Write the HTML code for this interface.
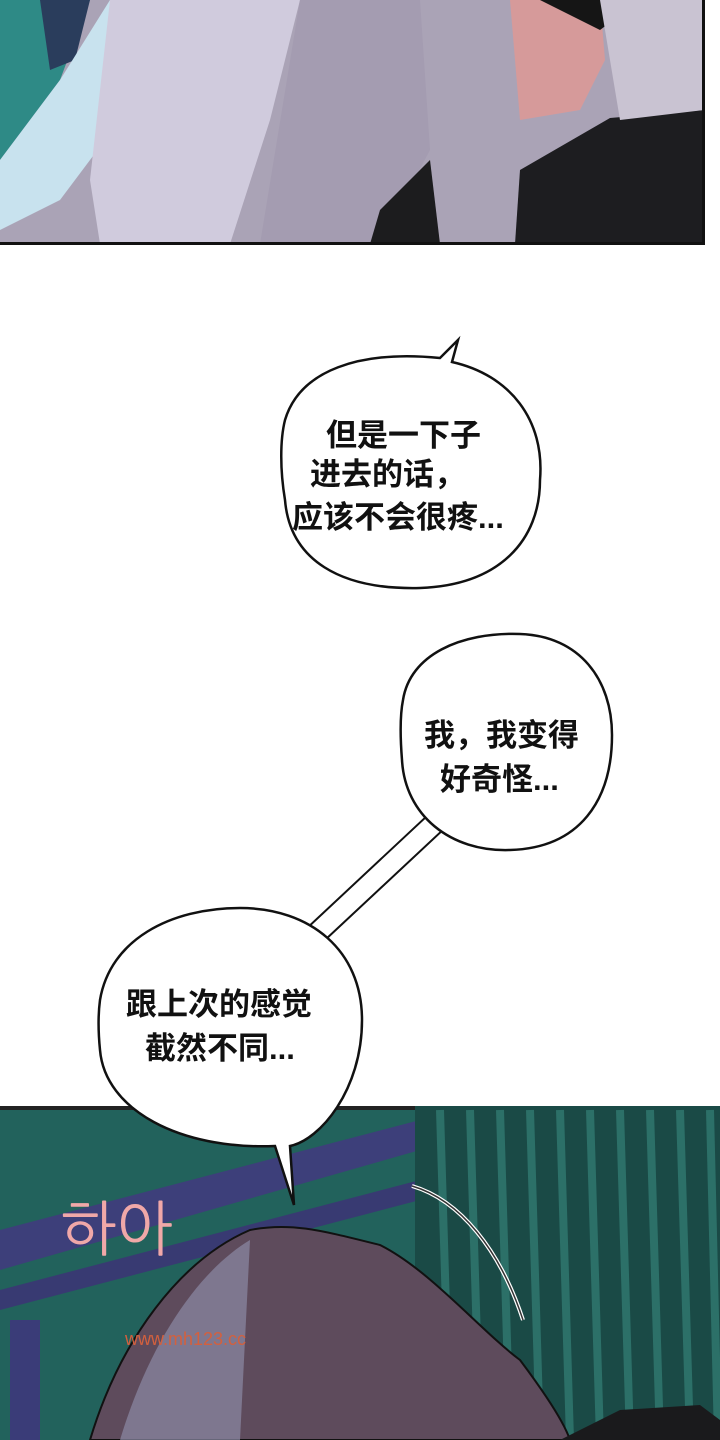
<!DOCTYPE html>
<html><head><meta charset="utf-8"><style>
html,body{margin:0;padding:0;background:#fff;}
svg{display:block}
text{font-family:"Liberation Sans","Noto Sans CJK SC",sans-serif;font-size:31px;font-weight:bold;fill:#111;}
</style></head><body>
<svg width="720" height="1440" viewBox="0 0 720 1440" xmlns="http://www.w3.org/2000/svg">
<!-- top panel -->
<rect x="0" y="0" width="704" height="244" fill="#aaa3b6"/>
<polygon points="0,0 90,0 60,80 0,160" fill="#2e8a86"/>
<polygon points="40,0 90,0 75,60 50,70" fill="#2a3d5c"/>
<polygon points="0,160 60,80 110,0 160,0 120,120 60,200 0,230" fill="#c8e2ee"/>
<polygon points="110,0 300,0 270,120 230,244 100,244 90,180" fill="#d0cbdd"/>
<polygon points="300,0 420,0 430,150 380,244 260,244" fill="#a49cb1"/>
<polygon points="380,210 430,160 440,244 370,244" fill="#1c1c1e"/>
<polygon points="510,0 600,0 605,60 580,110 520,120" fill="#d69a9a"/>
<polygon points="540,0 640,0 600,30" fill="#151515"/>
<polygon points="520,170 610,118 704,110 704,244 515,244" fill="#1d1d20"/>
<polygon points="600,0 704,0 704,110 620,120" fill="#c9c3d2"/>
<rect x="0" y="242" width="704" height="3" fill="#111"/>
<rect x="702" y="0" width="3" height="245" fill="#111"/>

<!-- bottom panel -->
<rect x="0" y="1106" width="720" height="334" fill="#22625c"/>
<rect x="0" y="1106" width="720" height="4" fill="#222"/>
<polygon points="0,1230 420,1120 420,1150 0,1270" fill="#3d3f7a"/>
<polygon points="0,1290 420,1180 420,1200 0,1310" fill="#383a72"/>
<rect x="10" y="1320" width="30" height="120" fill="#3a3c78"/>
<rect x="415" y="1106" width="305" height="334" fill="#1a4a46"/>
<g stroke="#2c7068" stroke-width="8">
<line x1="440" y1="1110" x2="450" y2="1440"/><line x1="470" y1="1110" x2="480" y2="1440"/>
<line x1="500" y1="1110" x2="510" y2="1440"/><line x1="530" y1="1110" x2="540" y2="1440"/>
<line x1="560" y1="1110" x2="570" y2="1440"/><line x1="590" y1="1110" x2="600" y2="1440"/>
<line x1="620" y1="1110" x2="630" y2="1440"/><line x1="650" y1="1110" x2="660" y2="1440"/>
<line x1="680" y1="1110" x2="690" y2="1440"/><line x1="710" y1="1110" x2="718" y2="1440"/>
</g>
<path d="M90,1440 C120,1340 180,1260 250,1230 C290,1222 320,1230 380,1245 C430,1270 480,1330 520,1360 C550,1400 565,1425 570,1440 Z" fill="#5e4b5c" stroke="#111" stroke-width="2"/>
<path d="M120,1440 C150,1340 200,1270 250,1240 L240,1440 Z" fill="#8c8aa5" opacity="0.7"/>
<polygon points="560,1440 620,1410 700,1405 720,1420 720,1440" fill="#1a1a1c"/>
<path d="M412,1186 C460,1200 500,1250 523,1320" stroke="#fff" stroke-width="4" fill="none"/>
<path d="M412,1186 C460,1200 500,1250 523,1320" stroke="#333" stroke-width="1.5" fill="none"/>
<text x="60" y="1250" style="font-size:60px;font-weight:normal;fill:#f0a8a8;font-family:'NanumGothic',sans-serif">하아</text>
<text x="125" y="1345" style="font-size:18px;font-weight:normal;fill:#d3603e;">www.mh123.cc</text>

<!-- bubble 1 -->
<path d="M285,420 C300,370 360,350 440,358 L458,340 L452,362 C510,375 545,420 540,480 C540,540 500,585 420,588 C340,590 290,560 285,500 C280,470 280,440 285,420 Z" fill="#fff" stroke="#111" stroke-width="2.5"/>
<text x="326" y="446">但是一下子</text>
<text x="310" y="485">进去的话，</text>
<text x="292" y="528">应该不会很疼...</text>

<!-- tail between bubbles -->
<polygon points="305,930 428,815 445,828 325,940" fill="#fff" stroke="#111" stroke-width="2"/>
<!-- bubble 2 -->
<path d="M403,700 C410,655 460,632 520,634 C580,636 612,680 612,735 C612,800 580,848 510,850 C450,852 405,815 402,760 C400,735 400,715 403,700 Z" fill="#fff" stroke="#111" stroke-width="2.5"/>
<text x="424" y="746">我，我变得</text>
<text x="440" y="790">好奇怪...</text>

<!-- bubble 3 -->
<path d="M100,1000 C110,940 170,908 240,908 C310,908 362,950 362,1020 C362,1090 320,1140 290,1146 L294,1205 L275,1146 C180,1150 105,1110 100,1050 C98,1030 98,1015 100,1000 Z" fill="#fff" stroke="#111" stroke-width="2.5"/>
<text x="126" y="1015">跟上次的感觉</text>
<text x="145" y="1059">截然不同...</text>
</svg>
</body></html>
